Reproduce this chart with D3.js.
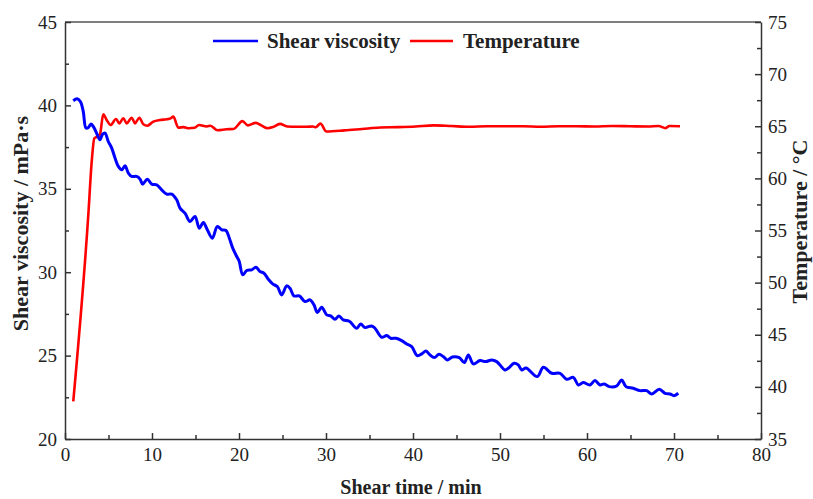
<!DOCTYPE html>
<html>
<head>
<meta charset="utf-8">
<script src="https://cdn.jsdelivr.net/npm/d3@7"></script>
<style>
  body { margin: 0; background: #fff; }
  svg text { font-family: "Liberation Serif", "Times New Roman", serif; fill: #222; }
  .axis path, .axis line { stroke: #333; stroke-width: 1.5; }
  .axis text { font-size: 19px; }
  .title { font-size: 21px; font-weight: bold; }
  .xtitle { font-size: 20px; font-weight: bold; }
  .ytitle { font-size: 22px; font-weight: bold; }
</style>
</head>
<body>
<div class="chart"></div>
<script>
// shear viscosity (mPa·s) vs time (min)
const viscTime = [0.95, 1.41, 1.80, 2.10, 2.41, 2.68, 2.99, 3.33, 3.71, 4.02, 4.33, 4.60, 4.98, 5.37, 5.75, 6.13, 6.52, 6.90, 7.28, 7.67, 8.24, 8.62, 8.93, 9.46, 9.97, 10.54, 11.11, 11.69, 12.26, 12.84, 13.22, 13.79, 14.37, 14.94, 15.44, 15.90, 16.36, 16.93, 17.51, 18.01, 18.51, 18.89, 19.28, 19.74, 20.03, 20.43, 20.89, 21.46, 21.95, 22.41, 22.87, 23.37, 23.87, 24.40, 24.91, 25.48, 25.86, 26.32, 26.93, 27.59, 28.16, 28.62, 29.00, 29.51, 30.08, 30.54, 31.03, 31.49, 31.99, 32.68, 33.53, 33.99, 34.48, 35.25, 35.63, 36.40, 36.98, 37.44, 38.05, 38.70, 39.28, 39.85, 40.49, 41.00, 41.49, 41.95, 42.45, 42.99, 43.48, 43.94, 44.52, 45.32, 45.90, 46.36, 46.93, 47.70, 48.36, 49.05, 49.62, 50.57, 50.95, 51.61, 52.10, 52.49, 52.99, 54.29, 54.98, 55.94, 56.90, 57.67, 58.43, 59.00, 59.57, 60.34, 60.92, 61.49, 61.99, 62.56, 63.41, 63.99, 64.48, 65.32, 66.09, 66.86, 67.44, 68.31, 68.97, 69.54, 70.00, 70.49];
const viscosity = [40.28, 40.40, 40.20, 39.63, 38.64, 38.67, 38.88, 38.67, 38.24, 37.94, 38.28, 38.34, 37.83, 37.44, 36.84, 36.34, 36.14, 36.38, 35.94, 35.74, 35.74, 35.58, 35.28, 35.58, 35.28, 35.24, 34.94, 34.68, 34.68, 34.34, 33.84, 33.54, 33.04, 33.34, 32.64, 32.98, 32.54, 32.04, 32.74, 32.54, 32.50, 32.04, 31.44, 30.94, 30.64, 29.84, 30.10, 30.14, 30.30, 30.04, 29.94, 29.58, 29.30, 29.14, 28.64, 29.18, 29.04, 28.58, 28.58, 28.24, 28.34, 28.04, 27.58, 27.90, 27.44, 27.38, 27.18, 27.38, 27.14, 27.06, 26.64, 26.90, 26.68, 26.78, 26.64, 26.10, 26.20, 26.04, 26.04, 25.90, 25.70, 25.54, 25.00, 25.10, 25.28, 25.04, 24.88, 25.08, 24.94, 24.74, 24.92, 24.88, 24.58, 25.04, 24.50, 24.70, 24.64, 24.74, 24.64, 24.14, 24.24, 24.54, 24.44, 24.14, 24.26, 23.74, 24.30, 23.94, 23.94, 23.58, 23.70, 23.24, 23.38, 23.24, 23.50, 23.24, 23.30, 23.14, 23.18, 23.54, 23.14, 23.04, 22.90, 22.90, 22.70, 22.98, 22.74, 22.70, 22.60, 22.74];

// temperature (°C) vs time (min)
const tempTime = [0.95, 2.68, 3.07, 3.37, 3.71, 4.02, 4.40, 4.79, 5.25, 5.86, 6.24, 6.70, 7.09, 7.67, 8.05, 8.54, 9.00, 9.46, 10.15, 10.92, 11.69, 12.15, 12.45, 13.02, 13.63, 14.24, 14.90, 15.40, 16.30, 16.71, 17.53, 18.55, 19.38, 20.40, 21.02, 21.92, 22.57, 23.28, 23.90, 24.71, 25.53, 26.77, 27.79, 28.49, 28.82, 29.36, 30.05, 32.10, 34.15, 36.21, 38.26, 40.31, 42.37, 44.41, 46.47, 48.52, 50.57, 52.63, 54.68, 56.74, 58.78, 60.84, 62.89, 64.94, 67.00, 68.23, 69.05, 69.46, 70.69];
const temperature = [38.6, 56.5, 61.6, 63.84, 64.0, 64.23, 66.15, 65.6, 65.12, 65.7, 65.28, 65.76, 65.28, 65.82, 65.28, 65.82, 65.19, 65.05, 65.44, 65.6, 65.67, 65.76, 65.92, 64.86, 64.92, 64.81, 64.85, 65.12, 64.98, 65.05, 64.62, 64.71, 64.74, 65.49, 65.08, 65.32, 65.08, 64.81, 64.92, 65.23, 64.98, 64.95, 64.95, 64.98, 64.9, 65.25, 64.5, 64.6, 64.74, 64.88, 64.92, 64.98, 65.08, 65.02, 64.95, 65.0, 65.0, 65.0, 64.95, 65.0, 65.0, 64.98, 65.02, 65.0, 64.98, 65.02, 64.82, 65.02, 65.0];

const xTicks = [0, 10, 20, 30, 40, 50, 60, 70, 80];
const viscTicks = [20, 25, 30, 35, 40, 45];
const tempTicks = [35, 40, 45, 50, 55, 60, 65, 70, 75];

const margin = ({top: 22, right: 52, bottom: 60, left: 65});
const width = 813 - margin.left - margin.right;
const height = 499 - margin.top - margin.bottom;

const svg = d3.select('.chart').append('svg')
	.attr('width', 813)
	.attr('height', 499)
	.append('g')
	.attr('transform', 'translate(' + margin.left + ',' + margin.top + ')');

const xScale = d3.scaleLinear().domain([0, 80]).range([0, width]);
const yScale = d3.scaleLinear().domain([20, 45]).range([height, 0]);
const y2Scale = d3.scaleLinear().domain([35, 75]).range([height, 0]);

// minor ticks first (no labels)
svg.append('g')
	.attr('class', 'axis')
	.attr('transform', `translate(0, ${height})`)
	.call(d3.axisBottom(xScale).tickValues(d3.range(5, 80, 10)).tickSize(-4).tickFormat(''))
	.select('.domain').remove();
svg.append('g')
	.attr('class', 'axis')
	.call(d3.axisLeft(yScale).tickValues(d3.range(22.5, 45, 5)).tickSize(-4).tickFormat(''))
	.select('.domain').remove();
svg.append('g')
	.attr('class', 'axis')
	.attr('transform', `translate(${width}, 0)`)
	.call(d3.axisRight(y2Scale).tickValues(d3.range(37.5, 75, 5)).tickSize(-4).tickFormat(''))
	.select('.domain').remove();

// top border
svg.append('line')
	.attr('x1', 0).attr('x2', width)
	.attr('y1', 0).attr('y2', 0)
	.style('stroke', '#555')
	.style('stroke-width', 1.5);

svg.append('g')
	.attr('class', 'axis x-axis')
	.attr('transform', `translate(0, ${height})`)
	.call(d3.axisBottom(xScale).tickValues(xTicks).tickSize(-6).tickSizeOuter(0).tickPadding(9));

svg.append('g')
	.attr('class', 'axis y-axis')
	.call(d3.axisLeft(yScale).tickValues(viscTicks).tickSize(-6).tickSizeOuter(0).tickPadding(8));

svg.append('g')
	.attr('class', 'axis y2-axis')
	.attr('transform', `translate(${width}, 0)`)
	.call(d3.axisRight(y2Scale).tickValues(tempTicks).tickSize(-6).tickSizeOuter(0).tickPadding(7));

const viscLine = d3.line()
	.x((d, i) => xScale(viscTime[i]))
	.y(d => yScale(d))
	.curve(d3.curveCatmullRom);

const tempLine = d3.line()
	.x((d, i) => xScale(tempTime[i]))
	.y(d => y2Scale(d))
	.curve(d3.curveMonotoneX);

svg.append('path')
	.datum(temperature)
	.attr('d', tempLine)
	.style('fill', 'none')
	.style('stroke', '#ff0000')
	.style('stroke-width', 2.6);

svg.append('path')
	.datum(viscosity)
	.attr('d', viscLine)
	.style('fill', 'none')
	.style('stroke', '#0000ff')
	.style('stroke-width', 3);

// legend
const legend = svg.append('g').attr('transform', 'translate(0, 19)');
legend.append('line')
	.attr('x1', 148).attr('x2', 193).attr('y1', 0).attr('y2', 0)
	.style('stroke', '#0000ff').style('stroke-width', 2.6);
legend.append('text')
	.attr('class', 'title')
	.attr('x', 202).attr('y', 7)
	.text('Shear viscosity');
legend.append('line')
	.attr('x1', 345).attr('x2', 388).attr('y1', 0).attr('y2', 0)
	.style('stroke', '#ff0000').style('stroke-width', 2.6);
legend.append('text')
	.attr('class', 'title')
	.attr('x', 398).attr('y', 7)
	.text('Temperature');

// axis titles
svg.append('text')
	.attr('class', 'xtitle')
	.attr('x', width / 2 - 2)
	.attr('y', height + 55)
	.attr('text-anchor', 'middle')
	.text('Shear time / min');

svg.append('text')
	.attr('class', 'ytitle')
	.attr('transform', `translate(-37, ${height / 2 - 7}) rotate(-90)`)
	.attr('text-anchor', 'middle')
	.text('Shear viscosity / mPa·s');

svg.append('text')
	.attr('class', 'ytitle')
	.attr('transform', `translate(${width + 46}, ${height / 2 - 9}) rotate(-90)`)
	.attr('text-anchor', 'middle')
	.text('Temperature / °C');
</script>
</body>
</html>
